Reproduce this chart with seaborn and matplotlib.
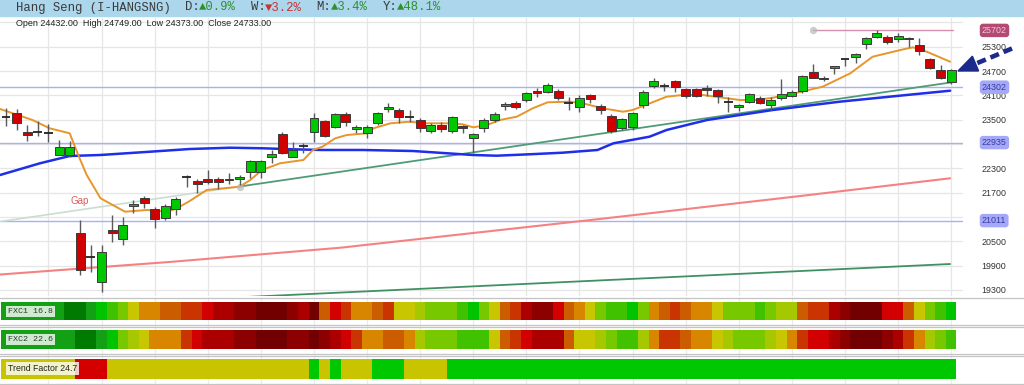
import numpy as np
import matplotlib
matplotlib.use("Agg")
import matplotlib.pyplot as plt
import seaborn as sns
from matplotlib.patches import Rectangle, Polygon
from matplotlib.lines import Line2D

# ---------------- data ----------------
opens = [23580, 23658, 23189, 23196, 23189, 22629, 22629, 20698, 20114, 19490,
         20780, 20551, 21372, 21576, 21290, 21068, 21290, 22079, 21996, 22045,
         22045, 22045, 22045, 22203, 22203, 22580, 23147, 22587, 22851, 23189,
         23468, 23327, 23633, 23263, 23179, 23411, 23756, 23739, 23579, 23492,
         23228, 23369, 23228, 23344, 23041, 23288, 23492, 23838, 23919, 23986,
         24215, 24190, 24208, 23912, 23806, 24109, 23845, 23598, 23295, 23320,
         23862, 24338, 24331, 24447, 24257, 24257, 24289, 24232, 23941, 23820,
         23944, 24042, 23862, 24042, 24084, 24208, 24684, 24536, 24767, 24992,
         25039, 25359, 25547, 25532, 25483, 25483, 25342, 24989, 24725, 24432]
closes = [23566, 23418, 23122, 23184, 23179, 22819, 22819, 19793, 20102, 20230,
          20698, 20903, 21414, 21453, 21051, 21372, 21537, 22070, 21907, 21971,
          21971, 22005, 22094, 22481, 22481, 22647, 22686, 22745, 22844, 23534,
          23098, 23633, 23450, 23327, 23312, 23672, 23820, 23574, 23566, 23288,
          23369, 23263, 23559, 23302, 23140, 23492, 23640, 23887, 23806, 24166,
          24166, 24356, 24028, 23899, 24042, 24003, 23732, 23233, 23510, 23672,
          24171, 24454, 24318, 24306, 24084, 24084, 24225, 24084, 23931, 23862,
          24134, 23904, 23986, 24134, 24190, 24585, 24536, 24496, 24817, 24984,
          25120, 25522, 25645, 25409, 25564, 25522, 25194, 24782, 24521, 24733]
highs = [23781, 23764, 23369, 23468, 23386, 22999, 22982, 21026, 20410, 20410,
         21150, 21108, 21520, 21618, 21347, 21421, 21594, 22136, 22037, 22259,
         22087, 22193, 22136, 22506, 22506, 22745, 23189, 22957, 22918, 23672,
         23492, 23665, 23682, 23369, 23369, 23690, 23904, 23788, 23739, 23542,
         23418, 23450, 23591, 23369, 23172, 23534, 23697, 23944, 23961, 24190,
         24274, 24412, 24257, 24067, 24109, 24134, 23887, 23640, 23542, 23697,
         24232, 24536, 24397, 24491, 24282, 24289, 24356, 24269, 24067, 23887,
         24158, 24084, 24067, 24496, 24232, 24602, 24866, 24577, 24836, 25009,
         25157, 25539, 25702, 25589, 25645, 25539, 25507, 25021, 24849, 24749]
lows = [23352, 23246, 22975, 23105, 22943, 22617, 22587, 19670, 19752, 19244,
        20491, 20410, 21192, 21315, 20837, 21026, 21150, 21848, 21700, 21907,
        21791, 21907, 21890, 22055, 22055, 22439, 22666, 22580, 22671, 22957,
        23073, 23283, 23344, 23164, 23041, 23369, 23697, 23426, 23450, 23204,
        23164, 23204, 23164, 23164, 22671, 23204, 23450, 23739, 23764, 23944,
        24052, 24158, 23986, 23739, 23697, 23904, 23633, 23172, 23246, 23238,
        23788, 24274, 24208, 24190, 24042, 24060, 24084, 23904, 23690, 23714,
        23912, 23875, 23739, 23986, 24060, 24151, 24516, 24462, 24627, 24831,
        24891, 25236, 25527, 25367, 25423, 25300, 25095, 24743, 24496, 24373]

# moving averages (read at candle positions)
ma_fast_x = [-0.56, 2.5, 4.1, 6.0, 6.8, 7.6, 8.9, 11.2, 13.3, 15.2, 16.1, 17.3, 18.9, 22.0,
             23.0, 24.1, 25.8, 28.0, 28.9, 29.8, 31.0, 32.1, 34.0, 34.6, 36.2, 38.0, 39.6,
             41.8, 43.0, 44.0, 45.3, 46.5, 48.1, 49.6, 51.0, 53.1, 54.3, 56.2, 58.1, 59.0,
             60.4, 62.2, 63.7, 65.6, 67.5, 69.1, 70.7, 72.2, 74.5, 76.9, 79.5, 81.6, 84.5,
             85.4, 86.7, 88.9]
ma_fast_y = [23764, 23492, 23288, 23164, 22629, 22136, 21562, 21231, 21273, 21231, 21315,
             21495, 21766, 21848, 22013, 22259, 22425, 22506, 22753, 22834, 23041, 23123,
             23164, 23288, 23411, 23450, 23411, 23411, 23386, 23312, 23369, 23492, 23574,
             23781, 23929, 23944, 23904, 23781, 23697, 23739, 23880, 24067, 24109, 24109,
             24042, 23986, 23986, 24042, 24166, 24314, 24644, 25053, 25236, 25285, 25177,
             24930]
ma_mid_x = [-0.56, 3.2, 6.0, 8.85, 13.6, 17.3, 21.1, 24.2, 27.0, 29.8, 33.6, 38.3, 44.0,
            46.2, 49.3, 52.4, 55.7, 57.2, 60.6, 62.2, 66.0, 72.2, 78.5, 84.8, 88.9]
ma_mid_y = [22136, 22425, 22605, 22629, 22711, 22777, 22809, 22795, 22770, 22753, 22753,
            22728, 22629, 22612, 22647, 22686, 22753, 22918, 23081, 23246, 23492, 23739,
            23944, 24109, 24215]
ma_slow_x = [-0.56, 15.4, 31.5, 55.9, 74.8, 88.9]
ma_slow_y = [19682, 19991, 20343, 21051, 21618, 22055]
ma_long_x = [0, 88.9]
ma_long_y = [18850, 19941]
trend_x = [-0.5, 22, 89]
trend_y = [20990, 21852, 24420]

levels = [24302, 22935, 21011]
resistance = 25702
resistance_start = 76
price_ticks = [19300, 19900, 20500, 21100, 21700, 22300, 22900, 23500, 24100, 24700, 25300]
hidden_ticks = [21100, 22900]   # covered by the level boxes

fxc1 = [12, 12, 12, 12, 12, 12, 13, 13, 12, 11, 10, 9, 7, 6, 6, 5, 5, 4, 4, 3,
        2, 2, 1, 1, 0, 0, 0, 1, 2, 0, 5, 3, 4, 6, 6, 5, 4, 7, 7, 8,
        9, 9, 9, 10, 11, 9, 7, 5, 4, 2, 1, 1, 3, 5, 6, 7, 9, 10, 10, 11,
        9, 6, 5, 4, 5, 6, 6, 7, 9, 9, 9, 10, 9, 8, 8, 5, 4, 4, 2, 1,
        0, 0, 0, 3, 3, 5, 7, 9, 10, 11]
fxc2 = [12, 12, 12, 12, 12, 12, 12, 13, 13, 12, 11, 9, 8, 7, 6, 6, 6, 4, 3, 2,
        2, 2, 1, 1, 0, 0, 0, 1, 1, 0, 1, 2, 3, 4, 6, 6, 5, 5, 6, 8,
        9, 9, 9, 10, 10, 10, 7, 5, 4, 3, 2, 2, 2, 5, 7, 7, 8, 9, 10, 10,
        8, 6, 4, 4, 5, 6, 6, 7, 8, 9, 9, 9, 8, 7, 6, 4, 3, 3, 2, 1,
        0, 0, 0, 1, 2, 4, 6, 8, 9, 10]
tfac = [1] * 7 + [0] * 3 + [1] * 19 + [2, 1, 2, 1, 1, 1, 2, 2, 2, 1, 1, 1, 1] + [2] * 48

fxc_palette = ["#720000", "#8c0000", "#ac0000", "#d20000", "#ca3400", "#cc5c00", "#d88600",
               "#c8c600", "#a6c800", "#78c800", "#40c200", "#00c400", "#14a014", "#007a00"]
tf_palette = ["#d40000", "#c8c400", "#00c800"]

# ---------------- figure ----------------
sns.set_style("white")
plt.rcParams["font.family"] = ["Liberation Sans", "DejaVu Sans"]
W, H = 1024, 385
fig = plt.figure(figsize=(W / 100, H / 100), dpi=100)
fig.patch.set_facecolor("white")

px_unit = 10.62
x_left = -6 / px_unit
ax = fig.add_axes([0, (H - 296) / H, 963 / W, (296 - 18) / H])
ax.set_xlim(x_left, x_left + 963 / px_unit)
ax.set_ylim(19152, 26008)
for s in ax.spines.values():
    s.set_visible(False)
ax.set_xticks(np.arange(4, 90, 5))
ax.set_xticklabels([])
ax.set_yticks(price_ticks + [25900])
ax.set_yticklabels([("" if t in hidden_ticks else str(t)) for t in price_ticks] + [""])
ax.yaxis.tick_right()
ax.tick_params(axis="y", length=0, pad=13.5, labelsize=6.4, labelcolor="#333333")
ax.tick_params(axis="x", length=0)
ax.grid(True, color="#e6e6e6", linewidth=0.9)
ax.set_axisbelow(True)

# horizontal levels
for lv in levels:
    ax.axhline(lv, color="#aab0f6", lw=1.0, zorder=1)
ax.plot([resistance_start, 89.2], [resistance, resistance], color="#d490ad", lw=1.0, zorder=1)

# moving averages / trend lines
sns.lineplot(x=ma_long_x, y=ma_long_y, ax=ax, color="#3f9163", linewidth=1.3, sort=False, estimator=None)
sns.lineplot(x=ma_slow_x, y=ma_slow_y, ax=ax, color="#f58282", linewidth=1.5, sort=False, estimator=None)
sns.lineplot(x=trend_x[:2], y=trend_y[:2], ax=ax, color="#c9ddd0", linewidth=1.2, sort=False, estimator=None)
sns.lineplot(x=trend_x[1:], y=trend_y[1:], ax=ax, color="#4f9b78", linewidth=1.3, sort=False, estimator=None)
sns.lineplot(x=ma_mid_x, y=ma_mid_y, ax=ax, color="#1f2ee8", linewidth=1.8, sort=False, estimator=None)
sns.lineplot(x=ma_fast_x, y=ma_fast_y, ax=ax, color="#e8952a", linewidth=1.4, sort=False, estimator=None)
ax.scatter([trend_x[1], resistance_start], [trend_y[1], resistance], s=28, color="#b8b8b8",
           alpha=0.7, zorder=2, linewidths=0)
ax.set_xlabel("")
ax.set_ylabel("")

# candles
xs = np.arange(len(opens))
o = np.array(opens); c = np.array(closes); hi = np.array(highs); lo = np.array(lows)
ax.vlines(xs, lo, hi, color="#5a5a5a", lw=1.0, zorder=3)
doji = np.abs(c - o) < 20
body = ~doji
cols = np.where(c >= o, "#00c800", "#d00000")
ax.bar(xs[body], np.abs(c - o)[body], bottom=np.minimum(o, c)[body], width=0.84,
       color=cols[body], edgecolor="#3a3a3a", linewidth=0.7, zorder=4)
ax.hlines(((o + c) / 2)[doji], xs[doji] - 0.42, xs[doji] + 0.42, color="#222222", lw=1.3, zorder=4)

ax.text(6.9, 21495, "Gap", color="#e35a5a", fontsize=7, ha="center", va="center")

# boxed level labels
lab_x = 1.0 + 19 / 963
ax.text(lab_x, resistance, str(resistance), transform=ax.get_yaxis_transform(), fontsize=6.4,
        color="#f3c8da", va="center", ha="left", clip_on=False, zorder=6,
        bbox=dict(boxstyle="round,pad=0.25,rounding_size=0.35", fc="#b24a74", ec="none"))
for lv in levels:
    ax.text(lab_x, lv, str(lv), transform=ax.get_yaxis_transform(), fontsize=6.4,
            color="#3a3aa0", va="center", ha="left", clip_on=False, zorder=6,
            bbox=dict(boxstyle="round,pad=0.25,rounding_size=0.35", fc="#a4a8f8", ec="none"))

# ---------------- indicator panel ----------------
axi = fig.add_axes([0, 0, 1, 88 / H])
axi.set_xlim(x_left, x_left + W / px_unit)
axi.set_ylim(385, 297)
axi.axis("off")
for gx in np.arange(4, 90, 5):
    axi.axvline(gx, color="#ececec", lw=0.9, zorder=0)
axi.bar(xs, 17.7, bottom=302.3, width=1.0, color=[fxc_palette[v] for v in fxc1], linewidth=0, zorder=2)
axi.bar(xs, 19.3, bottom=330.0, width=1.0, color=[fxc_palette[v] for v in fxc2], linewidth=0, zorder=2)
axi.bar(xs, 20.0, bottom=359.0, width=1.0, color=[tf_palette[v] for v in tfac], linewidth=0, zorder=2)

# ---------------- overlay (pixel coordinates) ----------------
ov = fig.add_axes([0, 0, 1, 1], zorder=10)
ov.set_xlim(0, W)
ov.set_ylim(H, 0)
ov.axis("off")
ov.patch.set_alpha(0)

ov.add_patch(Rectangle((0, 0), W, 15.5, color="#abd6ec", zorder=1))
mono = ["Liberation Mono", "DejaVu Sans Mono"]
fs = 8.8
cw = 0.6 * fs * 100 / 72
pieces = [(0, "Hang Seng (I-HANGSNG)", "#3a3a3a"),
          (23, "D:", "#3a3a3a"), (25, "▲0.9%", "#2f8f2f"),
          (32, "W:", "#3a3a3a"), (34, "▼3.2%", "#c83232"),
          (41, "M:", "#3a3a3a"), (43, "▲3.4%", "#2f8f2f"),
          (50, "Y:", "#3a3a3a"), (52, "▲48.1%", "#2f8f2f")]
for idx, txt, col in pieces:
    ov.text(16 + idx * cw, 7.5, txt, family=mono, fontsize=fs, color=col, va="center", ha="left", zorder=2)

ov.text(16, 23.3, "Open 24432.00  High 24749.00  Low 24373.00  Close 24733.00",
        fontsize=6.5, color="#222222", va="center", ha="left", zorder=2)

# separators
for yy in [297.6, 324.6, 326.8, 353.6, 356.0, 383.6]:
    ov.add_line(Line2D([0, W], [yy, yy], color="#c4c4c4", lw=0.9, zorder=1))

# indicator labels
box = dict(boxstyle="square,pad=0.22", fc="white", alpha=0.8, ec="none")
ov.text(8, 311.4, "FXC1 16.8", family=mono, fontsize=6.0, color="#333333", va="center", ha="left",
        bbox=box, zorder=3)
ov.text(8, 339.7, "FXC2 22.6", family=mono, fontsize=6.0, color="#333333", va="center", ha="left",
        bbox=box, zorder=3)
ov.text(8, 368.6, "Trend Factor 24.7", fontsize=6.3, color="#222222", va="center", ha="left",
        bbox=box, zorder=3)

# arrow
ov.add_line(Line2D([1012, 977], [48.5, 63.2], color="#1c2a8c", lw=3.3,
                   linestyle=(0, (2.0, 1.1)), solid_capstyle="butt", zorder=4))
ov.add_patch(Polygon([[958, 71], [978.6, 71.0], [972.4, 56.2]], closed=True, color="#1c2a8c", zorder=4))

fig.savefig("out.png", dpi=100)
